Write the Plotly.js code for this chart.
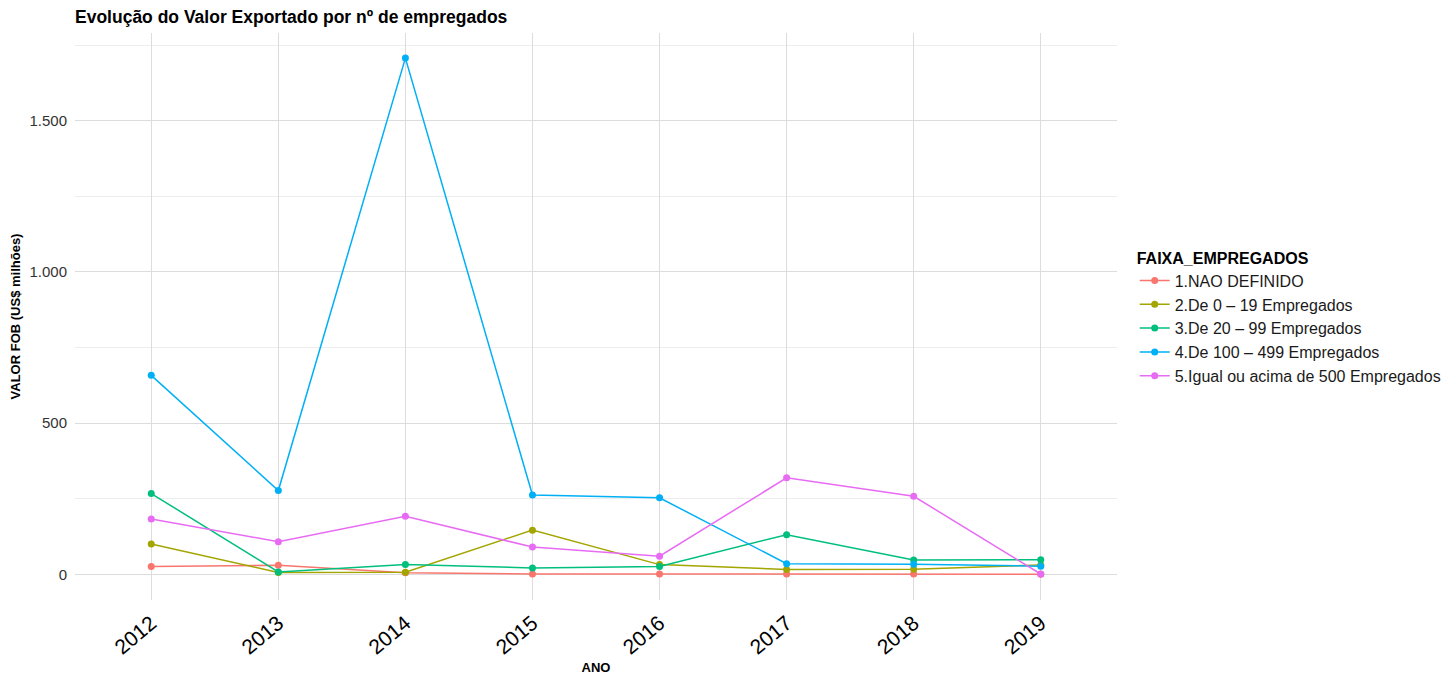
<!DOCTYPE html>
<html>
<head>
<meta charset="utf-8">
<script src="https://cdn.plot.ly/plotly-3.0.1.min.js"></script>
<style>html,body{margin:0;padding:0;background:#fff;}#chart{width:1453px;height:675px;}</style>
</head>
<body>
<div id="chart"></div>
<script>
const anos = [2012, 2013, 2014, 2015, 2016, 2017, 2018, 2019];
const tickAnos = ['2012', '2013', '2014', '2015', '2016', '2017', '2018', '2019'];
const seriesNomes = [
  '1.NAO DEFINIDO',
  '2.De 0 \u2013 19 Empregados',
  '3.De 20 \u2013 99 Empregados',
  '4.De 100 \u2013 499 Empregados',
  '5.Igual ou acima de 500 Empregados'
];
const naoDefinido = [26, 30, 5, 1, 1, 1, 1, 0];
const de0a19 = [100, 6, 7, 146, 32, 16, 17, 31];
const de20a99 = [267, 8, 32, 21, 26, 131, 47, 48];
const de100a499 = [658, 277, 1707, 262, 253, 35, 33, 27];
const acima500 = [183, 108, 192, 90, 60, 319, 258, 1];
const cores = ['#F8766D', '#A3A500', '#00BF7D', '#00B0F6', '#E76BF3'];

const valores = [naoDefinido, de0a19, de20a99, de100a499, acima500];
const traces = valores.map((v, i) => ({
  type: 'scatter',
  mode: 'lines+markers',
  x: anos,
  y: v,
  name: seriesNomes[i],
  line: {color: cores[i], width: 1.5},
  marker: {color: cores[i], size: 7}
}));

const fontFam = 'Liberation Sans, Arial, sans-serif';
const layout = {
  width: 1453,
  height: 675,
  separators: ',.',
  paper_bgcolor: '#fff',
  plot_bgcolor: '#fff',
  font: {family: fontFam, color: '#1a1a1a'},
  margin: {l: 75, r: 336, t: 33, b: 75, autoexpand: false},
  title: {
    text: '<b>Evolução do Valor Exportado por nº de empregados</b>',
    font: {size: 17.5, family: fontFam, color: '#000'},
    x: 0, xanchor: 'left', xref: 'paper',
    y: 1 - 17 / 675, yanchor: 'middle', yref: 'container'
  },
  xaxis: {
    range: [2011.4, 2019.6],
    tickvals: anos,
    ticktext: tickAnos,
    tickangle: -40,
    tickfont: {size: 21, color: '#000'},
    ticklabelstandoff: 6,
    showgrid: true,
    gridcolor: '#dcdcdc',
    gridwidth: 1,
    zeroline: false,
    showline: false,
    ticks: '',
    automargin: false,
    title: {text: '<b>ANO</b>', font: {size: 13, color: '#000'}, standoff: 6}
  },
  yaxis: {
    range: [-85, 1790],
    tickvals: [0, 500, 1000, 1500],
    tickformat: ',d',
    tickfont: {size: 15, color: '#333'},
    showgrid: true,
    gridcolor: '#dcdcdc',
    gridwidth: 1,
    minor: {tickvals: [250, 750, 1250, 1750], showgrid: true, gridcolor: '#e6e6e6', gridwidth: 0.7, ticks: ''},
    zeroline: false,
    showline: false,
    ticks: '',
    ticklabelstandoff: 7,
    automargin: false,
    title: {text: '<b>VALOR FOB (US$ milhões)</b>', font: {size: 13, color: '#000'}, standoff: 5}
  },
  legend: {
    x: 1.017, xanchor: 'left',
    y: 0.63, yanchor: 'top',
    title: {text: '<b>FAIXA_EMPREGADOS</b>', font: {size: 16, color: '#000'}},
    font: {size: 16, color: '#1a1a1a'},
    itemwidth: 30,
    tracegroupgap: 0,
    bgcolor: 'rgba(0,0,0,0)'
  },
  showlegend: true
};

Plotly.newPlot('chart', traces, layout, {displayModeBar: false, staticPlot: true});
</script>
</body>
</html>
